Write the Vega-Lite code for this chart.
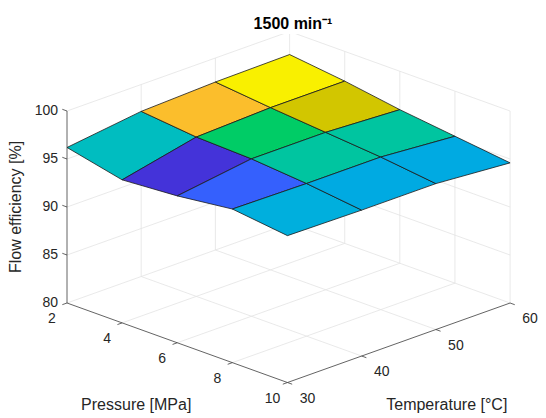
{
  "$schema": "https://vega.github.io/schema/vega-lite/v6.json",
  "description": "Flow efficiency over pressure and temperature at 1500 min-1 (3D surface)",
  "width": 546,
  "height": 384,
  "autosize": {"type": "none"},
  "padding": {"left": 0, "right": 0, "top": 34, "bottom": 0},
  "background": "white",
  "title": {
    "text": "1500 min⁻¹",
    "font": "Liberation Sans",
    "fontSize": 16,
    "fontWeight": "bold",
    "color": "black",
    "anchor": "middle",
    "dx": 20,
    "offset": 2
  },
  "config": {"view": {"stroke": null}},
  "projection": {"type": "identity", "scale": 1, "translate": [0, -34]},
  "datasets": {
    "cells": [
      {"p0": 2, "p1": 4, "t0": 30, "t1": 40, "z00": 96.2, "z01": 97.2, "z10": 94.9, "z11": 96.6},
      {"p0": 2, "p1": 4, "t0": 40, "t1": 50, "z00": 97.2, "z01": 97.5, "z10": 96.6, "z11": 96.9},
      {"p0": 2, "p1": 4, "t0": 50, "t1": 60, "z00": 97.5, "z01": 97.6, "z10": 96.9, "z11": 96.9},
      {"p0": 4, "p1": 6, "t0": 30, "t1": 40, "z00": 94.9, "z01": 96.6, "z10": 95.3, "z11": 96.4},
      {"p0": 4, "p1": 6, "t0": 40, "t1": 50, "z00": 96.6, "z01": 96.9, "z10": 96.4, "z11": 96.4},
      {"p0": 4, "p1": 6, "t0": 50, "t1": 60, "z00": 96.9, "z01": 96.9, "z10": 96.4, "z11": 96.0},
      {"p0": 6, "p1": 8, "t0": 30, "t1": 40, "z00": 95.3, "z01": 96.4, "z10": 96.0, "z11": 95.9},
      {"p0": 6, "p1": 8, "t0": 40, "t1": 50, "z00": 96.4, "z01": 96.4, "z10": 95.9, "z11": 95.9},
      {"p0": 6, "p1": 8, "t0": 50, "t1": 60, "z00": 96.4, "z01": 96.0, "z10": 95.9, "z11": 95.3},
      {"p0": 8, "p1": 10, "t0": 30, "t1": 40, "z00": 96.0, "z01": 95.9, "z10": 95.3, "z11": 95.2},
      {"p0": 8, "p1": 10, "t0": 40, "t1": 50, "z00": 95.9, "z01": 95.9, "z10": 95.2, "z11": 95.2},
      {"p0": 8, "p1": 10, "t0": 50, "t1": 60, "z00": 95.9, "z01": 95.3, "z10": 95.2, "z11": 94.6}
    ],
    "lines": [
      {"kind": "grid", "p1": 2, "t1": 30, "z1": 80, "p2": 2, "t2": 60, "z2": 80},
      {"kind": "grid", "p1": 2, "t1": 30, "z1": 85, "p2": 2, "t2": 60, "z2": 85},
      {"kind": "grid", "p1": 2, "t1": 30, "z1": 90, "p2": 2, "t2": 60, "z2": 90},
      {"kind": "grid", "p1": 2, "t1": 30, "z1": 95, "p2": 2, "t2": 60, "z2": 95},
      {"kind": "grid", "p1": 2, "t1": 30, "z1": 100, "p2": 2, "t2": 60, "z2": 100},
      {"kind": "grid", "p1": 2, "t1": 40, "z1": 80, "p2": 2, "t2": 40, "z2": 100},
      {"kind": "grid", "p1": 2, "t1": 50, "z1": 80, "p2": 2, "t2": 50, "z2": 100},
      {"kind": "grid", "p1": 2, "t1": 60, "z1": 80, "p2": 2, "t2": 60, "z2": 100},
      {"kind": "grid", "p1": 2, "t1": 60, "z1": 80, "p2": 10, "t2": 60, "z2": 80},
      {"kind": "grid", "p1": 2, "t1": 60, "z1": 85, "p2": 10, "t2": 60, "z2": 85},
      {"kind": "grid", "p1": 2, "t1": 60, "z1": 90, "p2": 10, "t2": 60, "z2": 90},
      {"kind": "grid", "p1": 2, "t1": 60, "z1": 95, "p2": 10, "t2": 60, "z2": 95},
      {"kind": "grid", "p1": 2, "t1": 60, "z1": 100, "p2": 10, "t2": 60, "z2": 100},
      {"kind": "grid", "p1": 4, "t1": 60, "z1": 80, "p2": 4, "t2": 60, "z2": 100},
      {"kind": "grid", "p1": 6, "t1": 60, "z1": 80, "p2": 6, "t2": 60, "z2": 100},
      {"kind": "grid", "p1": 8, "t1": 60, "z1": 80, "p2": 8, "t2": 60, "z2": 100},
      {"kind": "grid", "p1": 10, "t1": 60, "z1": 80, "p2": 10, "t2": 60, "z2": 100},
      {"kind": "grid", "p1": 4, "t1": 30, "z1": 80, "p2": 4, "t2": 60, "z2": 80},
      {"kind": "grid", "p1": 6, "t1": 30, "z1": 80, "p2": 6, "t2": 60, "z2": 80},
      {"kind": "grid", "p1": 8, "t1": 30, "z1": 80, "p2": 8, "t2": 60, "z2": 80},
      {"kind": "grid", "p1": 2, "t1": 40, "z1": 80, "p2": 10, "t2": 40, "z2": 80},
      {"kind": "grid", "p1": 2, "t1": 50, "z1": 80, "p2": 10, "t2": 50, "z2": 80},
      {"kind": "axis", "p1": 2, "t1": 30, "z1": 80, "p2": 2, "t2": 30, "z2": 100},
      {"kind": "axis", "p1": 2, "t1": 30, "z1": 80, "p2": 10, "t2": 30, "z2": 80},
      {"kind": "axis", "p1": 10, "t1": 30, "z1": 80, "p2": 10, "t2": 60, "z2": 80},
      {"kind": "axis", "p1": 2, "t1": 30, "z1": 80, "p2": 2, "t2": 29.37, "z2": 80},
      {"kind": "axis", "p1": 4, "t1": 30, "z1": 80, "p2": 4, "t2": 29.37, "z2": 80},
      {"kind": "axis", "p1": 6, "t1": 30, "z1": 80, "p2": 6, "t2": 29.37, "z2": 80},
      {"kind": "axis", "p1": 8, "t1": 30, "z1": 80, "p2": 8, "t2": 29.37, "z2": 80},
      {"kind": "axis", "p1": 10, "t1": 30, "z1": 80, "p2": 10, "t2": 29.37, "z2": 80},
      {"kind": "axis", "p1": 10, "t1": 30, "z1": 80, "p2": 10.17, "t2": 30, "z2": 80},
      {"kind": "axis", "p1": 10, "t1": 40, "z1": 80, "p2": 10.17, "t2": 40, "z2": 80},
      {"kind": "axis", "p1": 10, "t1": 50, "z1": 80, "p2": 10.17, "t2": 50, "z2": 80},
      {"kind": "axis", "p1": 10, "t1": 60, "z1": 80, "p2": 10.17, "t2": 60, "z2": 80},
      {"kind": "axis", "p1": 2, "t1": 30, "z1": 85, "p2": 1.83, "t2": 30, "z2": 85},
      {"kind": "axis", "p1": 2, "t1": 30, "z1": 90, "p2": 1.83, "t2": 30, "z2": 90},
      {"kind": "axis", "p1": 2, "t1": 30, "z1": 95, "p2": 1.83, "t2": 30, "z2": 95},
      {"kind": "axis", "p1": 2, "t1": 30, "z1": 100, "p2": 1.83, "t2": 30, "z2": 100}
    ],
    "labels": [
      {"axis": "z", "text": "80", "p": 2, "t": 30, "z": 80},
      {"axis": "z", "text": "85", "p": 2, "t": 30, "z": 85},
      {"axis": "z", "text": "90", "p": 2, "t": 30, "z": 90},
      {"axis": "z", "text": "95", "p": 2, "t": 30, "z": 95},
      {"axis": "z", "text": "100", "p": 2, "t": 30, "z": 100},
      {"axis": "p", "text": "2", "p": 2, "t": 30, "z": 80},
      {"axis": "p", "text": "4", "p": 4, "t": 30, "z": 80},
      {"axis": "p", "text": "6", "p": 6, "t": 30, "z": 80},
      {"axis": "p", "text": "8", "p": 8, "t": 30, "z": 80},
      {"axis": "p", "text": "10", "p": 10, "t": 30, "z": 80},
      {"axis": "t", "text": "30", "p": 10, "t": 30, "z": 80},
      {"axis": "t", "text": "40", "p": 10, "t": 40, "z": 80},
      {"axis": "t", "text": "50", "p": 10, "t": 50, "z": 80},
      {"axis": "t", "text": "60", "p": 10, "t": 60, "z": 80},
      {"axis": "ptitle", "text": "Pressure [MPa]", "p": 6, "t": 30, "z": 80},
      {"axis": "ttitle", "text": "Temperature [°C]", "p": 10, "t": 45, "z": 80},
      {"axis": "ztitle", "text": "Flow efficiency [%]", "p": 2, "t": 30, "z": 90}
    ]
  },
  "layer": [
    {
      "data": {"name": "lines"},
      "transform": [
        {"calculate": "67 + (datum.p1 - 2) * 27.56 + (datum.t1 - 30) * 7.42", "as": "xa"},
        {"calculate": "303 + (datum.p1 - 2) * 9.94 - (datum.t1 - 30) * 2.65 - (datum.z1 - 80) * 9.6", "as": "ya"},
        {"calculate": "67 + (datum.p2 - 2) * 27.56 + (datum.t2 - 30) * 7.42", "as": "xb"},
        {"calculate": "303 + (datum.p2 - 2) * 9.94 - (datum.t2 - 30) * 2.65 - (datum.z2 - 80) * 9.6", "as": "yb"},
        {"calculate": "{type: 'LineString', coordinates: [[datum.xa, datum.ya], [datum.xb, datum.yb]]}", "as": "geo"}
      ],
      "mark": {"type": "geoshape", "filled": false, "strokeWidth": 0.8},
      "encoding": {
        "shape": {"field": "geo", "type": "geojson"},
        "stroke": {
          "field": "kind",
          "type": "nominal",
          "scale": {"domain": ["grid", "axis"], "range": ["#e3e3e3", "#3c3c3c"]},
          "legend": null
        }
      }
    },
    {
      "data": {"name": "cells"},
      "transform": [
        {"calculate": "67 + (datum.p0 - 2) * 27.56 + (datum.t0 - 30) * 7.42", "as": "x00"},
        {"calculate": "303 + (datum.p0 - 2) * 9.94 - (datum.t0 - 30) * 2.65 - (datum.z00 - 80) * 9.6", "as": "y00"},
        {"calculate": "67 + (datum.p0 - 2) * 27.56 + (datum.t1 - 30) * 7.42", "as": "x01"},
        {"calculate": "303 + (datum.p0 - 2) * 9.94 - (datum.t1 - 30) * 2.65 - (datum.z01 - 80) * 9.6", "as": "y01"},
        {"calculate": "67 + (datum.p1 - 2) * 27.56 + (datum.t1 - 30) * 7.42", "as": "x11"},
        {"calculate": "303 + (datum.p1 - 2) * 9.94 - (datum.t1 - 30) * 2.65 - (datum.z11 - 80) * 9.6", "as": "y11"},
        {"calculate": "67 + (datum.p1 - 2) * 27.56 + (datum.t0 - 30) * 7.42", "as": "x10"},
        {"calculate": "303 + (datum.p1 - 2) * 9.94 - (datum.t0 - 30) * 2.65 - (datum.z10 - 80) * 9.6", "as": "y10"},
        {"calculate": "{type: 'Polygon', coordinates: [[[datum.x00, datum.y00], [datum.x01, datum.y01], [datum.x11, datum.y11], [datum.x10, datum.y10], [datum.x00, datum.y00]]]}", "as": "geo"}
      ],
      "mark": {"type": "geoshape", "stroke": "#1a1a1a", "strokeWidth": 0.8, "strokeJoin": "round"},
      "encoding": {
        "shape": {"field": "geo", "type": "geojson"},
        "fill": {
          "field": "z00",
          "type": "quantitative",
          "scale": {
            "domain": [94.6, 94.9, 95.3, 95.9, 96.0, 96.2, 96.4, 96.6, 96.9, 97.2, 97.5, 97.6],
            "range": ["#3e26a8", "#4433d9", "#3560fd", "#00aae2", "#00afdd", "#00bdc0", "#00c5a0", "#00cc66", "#d2c600", "#fbbe2c", "#f9f000", "#f9fb0e"]
          },
          "legend": null
        }
      }
    },
    {
      "data": {"name": "labels"},
      "transform": [
        {"filter": "datum.axis == 'z'"},
        {"calculate": "67 + (datum.p - 2) * 27.56 + (datum.t - 30) * 7.42", "as": "x"},
        {"calculate": "303 + (datum.p - 2) * 9.94 - (datum.t - 30) * 2.65 - (datum.z - 80) * 9.6", "as": "y"}
      ],
      "mark": {"type": "text", "align": "right", "baseline": "middle", "dx": -9, "font": "Liberation Sans", "fontSize": 14, "color": "#262626"},
      "encoding": {
        "longitude": {"field": "x", "type": "quantitative"},
        "latitude": {"field": "y", "type": "quantitative"},
        "text": {"field": "text", "type": "nominal"}
      }
    },
    {
      "data": {"name": "labels"},
      "transform": [
        {"filter": "datum.axis == 'p'"},
        {"calculate": "67 + (datum.p - 2) * 27.56 + (datum.t - 30) * 7.42", "as": "x"},
        {"calculate": "303 + (datum.p - 2) * 9.94 - (datum.t - 30) * 2.65 - (datum.z - 80) * 9.6", "as": "y"}
      ],
      "mark": {"type": "text", "align": "center", "baseline": "middle", "dx": -15, "dy": 16, "font": "Liberation Sans", "fontSize": 14, "color": "#262626"},
      "encoding": {
        "longitude": {"field": "x", "type": "quantitative"},
        "latitude": {"field": "y", "type": "quantitative"},
        "text": {"field": "text", "type": "nominal"}
      }
    },
    {
      "data": {"name": "labels"},
      "transform": [
        {"filter": "datum.axis == 't'"},
        {"calculate": "67 + (datum.p - 2) * 27.56 + (datum.t - 30) * 7.42", "as": "x"},
        {"calculate": "303 + (datum.p - 2) * 9.94 - (datum.t - 30) * 2.65 - (datum.z - 80) * 9.6", "as": "y"}
      ],
      "mark": {"type": "text", "align": "center", "baseline": "middle", "dx": 20, "dy": 16, "font": "Liberation Sans", "fontSize": 14, "color": "#262626"},
      "encoding": {
        "longitude": {"field": "x", "type": "quantitative"},
        "latitude": {"field": "y", "type": "quantitative"},
        "text": {"field": "text", "type": "nominal"}
      }
    },
    {
      "data": {"name": "labels"},
      "transform": [
        {"filter": "datum.axis == 'ptitle'"},
        {"calculate": "67 + (datum.p - 2) * 27.56 + (datum.t - 30) * 7.42", "as": "x"},
        {"calculate": "303 + (datum.p - 2) * 9.94 - (datum.t - 30) * 2.65 - (datum.z - 80) * 9.6", "as": "y"}
      ],
      "mark": {"type": "text", "align": "center", "baseline": "middle", "dx": -41, "dy": 62, "font": "Liberation Sans", "fontSize": 16, "color": "#262626"},
      "encoding": {
        "longitude": {"field": "x", "type": "quantitative"},
        "latitude": {"field": "y", "type": "quantitative"},
        "text": {"field": "text", "type": "nominal"}
      }
    },
    {
      "data": {"name": "labels"},
      "transform": [
        {"filter": "datum.axis == 'ttitle'"},
        {"calculate": "67 + (datum.p - 2) * 27.56 + (datum.t - 30) * 7.42", "as": "x"},
        {"calculate": "303 + (datum.p - 2) * 9.94 - (datum.t - 30) * 2.65 - (datum.z - 80) * 9.6", "as": "y"}
      ],
      "mark": {"type": "text", "align": "center", "baseline": "middle", "dx": 48, "dy": 62, "font": "Liberation Sans", "fontSize": 16, "color": "#262626"},
      "encoding": {
        "longitude": {"field": "x", "type": "quantitative"},
        "latitude": {"field": "y", "type": "quantitative"},
        "text": {"field": "text", "type": "nominal"}
      }
    },
    {
      "data": {"name": "labels"},
      "transform": [
        {"filter": "datum.axis == 'ztitle'"},
        {"calculate": "67 + (datum.p - 2) * 27.56 + (datum.t - 30) * 7.42", "as": "x"},
        {"calculate": "303 + (datum.p - 2) * 9.94 - (datum.t - 30) * 2.65 - (datum.z - 80) * 9.6", "as": "y"}
      ],
      "mark": {"type": "text", "align": "center", "baseline": "middle", "angle": 270, "dx": 0, "dy": -51, "font": "Liberation Sans", "fontSize": 16, "color": "#262626"},
      "encoding": {
        "longitude": {"field": "x", "type": "quantitative"},
        "latitude": {"field": "y", "type": "quantitative"},
        "text": {"field": "text", "type": "nominal"}
      }
    }
  ]
}
